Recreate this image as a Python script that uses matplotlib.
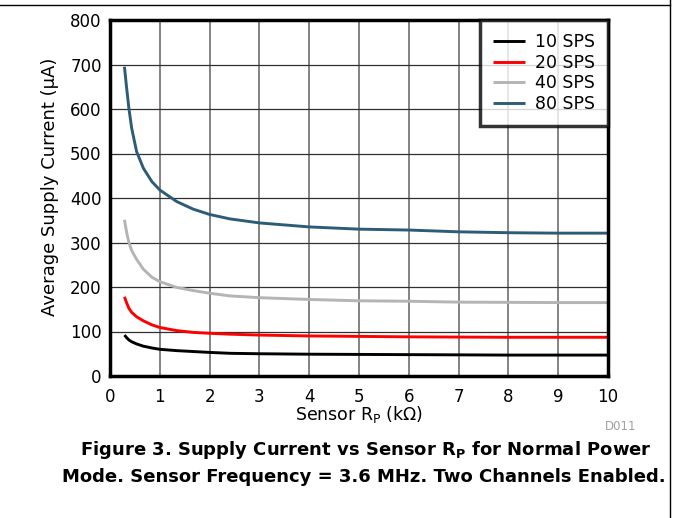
import matplotlib
matplotlib.use("Agg")
import matplotlib.pyplot as plt

plt.rcParams['font.family'] = ['DejaVu Sans']
plt.rcParams['mathtext.fontset'] = 'dejavusans'

rp = [0.29, 0.335, 0.38, 0.435, 0.535, 0.67, 0.84, 1.0, 1.34, 1.67, 2.0, 2.41, 3.0, 4.0, 5.0, 6.0, 7.0, 8.0, 9.0, 10.0]
sps10 = [92, 86, 81, 77, 72, 67, 63, 60, 57, 55, 53, 51, 50, 49, 48.5, 48, 47.5, 47, 47, 47]
sps20 = [178, 164, 152, 143, 133, 124, 115, 109, 102, 98, 96, 94, 92, 90, 89, 88, 87.5, 87, 87, 87]
sps40 = [351, 322, 300, 282, 262, 240, 222, 212, 199, 192, 186, 180, 176, 172, 169, 168, 166, 165.5, 165, 165]
sps80 = [695, 646, 601, 557, 504, 467, 437, 418, 392, 375, 363, 353, 344, 335, 330, 328, 324, 322, 321, 321]

series = [("10 SPS", sps10, "#000000"),
          ("20 SPS", sps20, "#ff0000"),
          ("40 SPS", sps40, "#b4b4b4"),
          ("80 SPS", sps80, "#2c5c77")]

xticks = list(range(0, 11))
yticks = list(range(0, 801, 100))

fig = plt.figure(figsize=(6.77, 5.18), dpi=100)
ax = fig.add_axes([110/677, 1-376/518, (608-110)/677, (376-20)/518])

for label, vals, col in series:
    ax.plot(rp, vals, color=col, lw=2.1, label=label, solid_capstyle='butt')

ax.set_xlim(0, 10)
ax.set_ylim(0, 800)
ax.set_xticks(xticks)
ax.set_yticks(yticks)
ax.xaxis.grid(True, color='#7a7a7a', lw=1.3)
ax.yaxis.grid(True, color='#303030', lw=0.9)
ax.set_axisbelow(True)
ax.tick_params(length=0, labelsize=12)
ax.tick_params(axis='x', pad=8.5)
ax.tick_params(axis='y', pad=6)
for s in ax.spines.values():
    s.set_linewidth(2.5)
    s.set_color('black')

ax.set_xlabel("Sensor R$_\\mathregular{P}$ (k\u03a9)", fontsize=12.5, labelpad=-1)
ax.set_ylabel("Average Supply Current (\u00b5A)", fontsize=13, labelpad=8)
ax.yaxis.label.set_y(0.532)

leg = ax.legend(loc='upper right', borderaxespad=0, fontsize=12.5, frameon=True,
                fancybox=False, handlelength=1.8, handletextpad=0.6,
                labelspacing=0.15, borderpad=0.75)
leg.get_frame().set_edgecolor('black')
leg.get_frame().set_linewidth(2.5)

fig.text(621/677, 1-427/518, "D011", fontsize=8.5, color='#a0a0a0', ha='center', va='center')
fig.text(366/677, 1-450/518, "Figure 3. Supply Current vs Sensor R$_\\mathbf{P}$ for Normal Power",
         fontsize=13, fontweight='bold', ha='center', va='center')
fig.text(364/677, 1-477.5/518, "Mode. Sensor Frequency = 3.6 MHz. Two Channels Enabled.",
         fontsize=13, fontweight='bold', ha='center', va='center')

# page frame lines
fig.add_artist(plt.Line2D([0, 670/677], [1-5/518, 1-5/518], color='black', lw=1))
fig.add_artist(plt.Line2D([670/677, 670/677], [0, 1], color='black', lw=1))

fig.savefig("out.png", dpi=100)
